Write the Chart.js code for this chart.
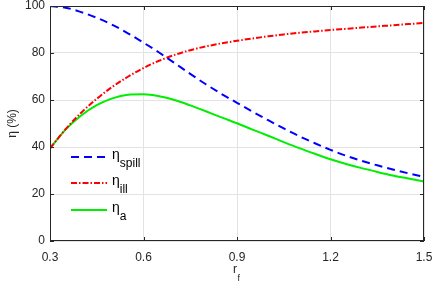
<!DOCTYPE html>
<html>
<head>
<meta charset="utf-8">
<script src="https://cdn.jsdelivr.net/npm/chart.js@4/dist/chart.umd.min.js"></script>
<style>
html,body{margin:0;padding:0;background:#fff;}
#wrap{width:437px;height:285px;position:relative;}
</style>
</head>
<body>
<div id="wrap"><canvas id="c" width="437" height="285"></canvas></div>
<script>
const rf = [0.30,0.35,0.40,0.45,0.50,0.55,0.60,0.65,0.70,0.75,0.80,0.85,0.90,0.95,1.00,1.05,1.10,1.15,1.20,1.25,1.30,1.35,1.40,1.45,1.50];
const etaSpill = [100.0,99.3,97.4,95.0,92.0,88.4,84.4,80.2,75.7,71.1,66.7,62.6,58.8,55.0,51.4,47.9,44.6,41.6,38.8,36.3,34.1,32.2,30.4,28.8,27.3];
const etaIll = [39.4,47.6,54.6,60.5,65.6,69.9,73.6,76.7,79.2,81.2,82.8,84.1,85.2,86.2,87.1,87.9,88.6,89.2,89.8,90.3,90.8,91.3,91.8,92.3,92.8];
const etaA = [39.4,47.4,53.4,57.8,60.7,62.2,62.4,61.6,60.0,57.7,55.2,52.6,50.1,47.4,44.8,42.1,39.5,37.1,34.8,32.8,31.0,29.4,27.9,26.6,25.3];
const xTicks = [0.3,0.6,0.9,1.2,1.5];
const yTicks = [0,20,40,60,80,100];
const seriesNames = ['spill','ill','a'];
const seriesColors = ['#0000ff','#ff0000','#00ee00'];
const seriesDash = [[8,5],[6,2,1.5,2],[]];

const FONT = 'Liberation Sans, Arial, sans-serif';

function pts(arr){ return rf.map((x,i)=>({x:x,y:arr[i]})); }

const decor = {
  id:'decor',
  afterDraw(chart){
    const ctx = chart.ctx, a = chart.chartArea;
    const xs = chart.scales.x, ys = chart.scales.y;
    ctx.save();
    ctx.strokeStyle = '#262626';
    ctx.lineWidth = 1;
    ctx.strokeRect(a.left+0.5, a.top+0.5, a.right-a.left-1, a.bottom-a.top-1);
    const tl = 4;
    ctx.beginPath();
    xTicks.forEach(v=>{
      const px = Math.round(xs.getPixelForValue(v))+0.5;
      ctx.moveTo(px,a.bottom); ctx.lineTo(px,a.bottom-tl);
      ctx.moveTo(px,a.top); ctx.lineTo(px,a.top+tl);
    });
    yTicks.forEach(v=>{
      const py = Math.round(ys.getPixelForValue(v))+0.5;
      ctx.moveTo(a.left,py); ctx.lineTo(a.left+tl,py);
      ctx.moveTo(a.right,py); ctx.lineTo(a.right-tl,py);
    });
    ctx.stroke();

    // legend
    const legY = [157,183,210];
    const x0 = 71, x1 = 107;
    for(let i=0;i<3;i++){
      ctx.beginPath();
      ctx.strokeStyle = seriesColors[i];
      ctx.lineWidth = 2;
      ctx.setLineDash(seriesDash[i]);
      ctx.moveTo(x0,legY[i]); ctx.lineTo(x1,legY[i]);
      ctx.stroke();
      ctx.setLineDash([]);
      ctx.fillStyle = '#000';
      ctx.textBaseline = 'alphabetic';
      ctx.textAlign = 'left';
      ctx.font = '14px ' + FONT;
      ctx.fillText('η', 112, legY[i]+2);
      const w = ctx.measureText('η').width;
      ctx.font = '12px ' + FONT;
      ctx.fillText(seriesNames[i], 112+w, legY[i]+10);
    }

    // axis titles
    ctx.fillStyle = '#262626';
    ctx.font = '12px ' + FONT;
    ctx.textAlign = 'left';
    ctx.textBaseline = 'alphabetic';
    ctx.fillText('r', 233, 273);
    ctx.font = '9px ' + FONT;
    ctx.fillText('f', 237.5, 281);

    ctx.save();
    ctx.translate(16, (a.top+a.bottom)/2);
    ctx.rotate(-Math.PI/2);
    ctx.textAlign = 'center';
    ctx.font = '12px ' + FONT;
    ctx.fillText('η (%)', 0, 0);
    ctx.restore();
    ctx.restore();
  }
};

new Chart(document.getElementById('c'), {
  type:'line',
  data:{
    datasets:[
      {label:'η spill', data:pts(etaSpill), borderColor:seriesColors[0], borderDash:seriesDash[0], borderWidth:2, pointRadius:0, cubicInterpolationMode:'monotone', fill:false},
      {label:'η ill', data:pts(etaIll), borderColor:seriesColors[1], borderDash:seriesDash[1], borderWidth:2, pointRadius:0, cubicInterpolationMode:'monotone', fill:false},
      {label:'η a', data:pts(etaA), borderColor:seriesColors[2], borderDash:seriesDash[2], borderWidth:2, pointRadius:0, cubicInterpolationMode:'monotone', fill:false}
    ]
  },
  options:{
    responsive:false,
    animation:false,
    events:[],
    layout:{padding:{top:6,right:13,left:0,bottom:0}},
    plugins:{legend:{display:false},tooltip:{enabled:false}},
    scales:{
      x:{
        type:'linear', min:0.3, max:1.5,
        afterBuildTicks(s){ s.ticks = xTicks.map(v=>({value:v})); },
        afterFit(s){ s.height = 44; s.paddingLeft = 0; s.paddingRight = 0; },
        border:{display:false},
        grid:{color:'#e3e3e3', drawTicks:false},
        ticks:{color:'#262626', padding:9, font:{family:FONT,size:12}, maxRotation:0, callback:v=>v.toFixed(1)}
      },
      y:{
        min:0, max:100,
        afterBuildTicks(s){ s.ticks = yTicks.map(v=>({value:v})); },
        afterFit(s){ s.width = 50; s.paddingTop = 0; s.paddingBottom = 0; },
        border:{display:false},
        grid:{color:'#e3e3e3', drawTicks:false},
        ticks:{color:'#262626', padding:5, font:{family:FONT,size:12}, callback:v=>String(v)}
      }
    }
  },
  plugins:[decor]
});
</script>
</body>
</html>
